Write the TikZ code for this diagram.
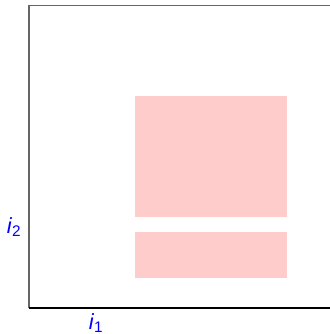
\documentclass[tikz,border=0pt]{standalone}
\usepackage{fontspec}
\setmainfont{Liberation Sans}
\usepackage{tikz}
\usetikzlibrary{positioning}
\definecolor{blockpink}{HTML}{FFCCCC}

\begin{document}
\begin{tikzpicture}[
    x=1bp, y=-1bp,
    font=\fontsize{22}{26}\selectfont,
    block/.style={
        fill=blockpink,
        draw=none
    },
    axislabel/.style={
        text=blue,
        inner sep=0pt
    }
]
\useasboundingbox (0,0) rectangle (330,334);

% frame
\draw[gray!80!black, line width=1.3bp] (29,308) -- (29,5.5) -- (331,5.5);
\draw[black, line width=1.3bp] (29,308) -- (331,308);

% blocks
\fill[block] (135,96) rectangle (287,217);
\fill[block] (135,232) rectangle (287,278);

% index labels
\node[axislabel] (itwo) at (14,227) {\textit{i}\textsubscript{2}};
\node[axislabel] (ione) at (96,323) {\textit{i}\textsubscript{1}};

\end{tikzpicture}
\end{document}
